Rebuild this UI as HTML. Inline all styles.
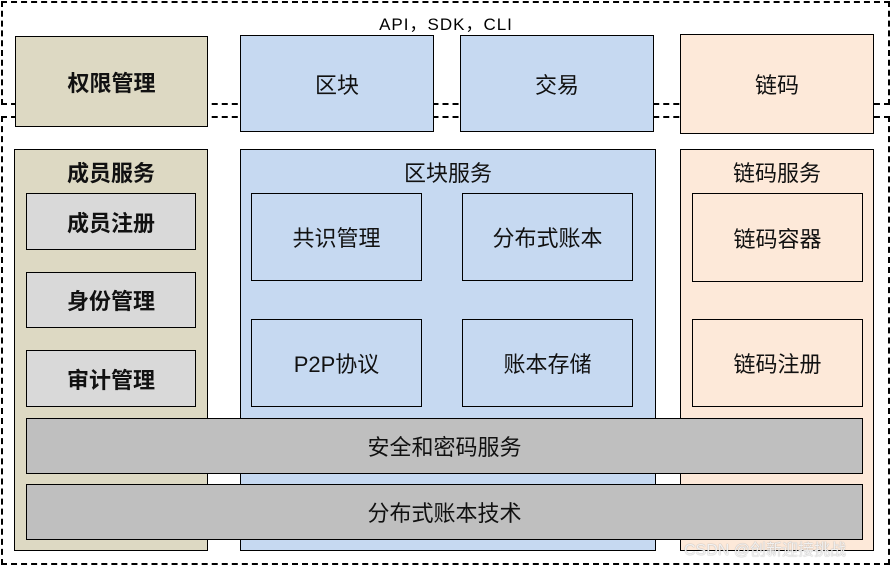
<!DOCTYPE html>
<html><head><meta charset="utf-8"><style>
body{margin:0;width:892px;height:566px;background:#fff;position:relative;overflow:hidden;font-family:"Liberation Sans","Noto Sans CJK SC",sans-serif;}
div{position:absolute;box-sizing:border-box;}
.b{border:1.5px solid #000;display:flex;align-items:center;justify-content:center;font-size:22px;color:#111;}
.d{border:2px dashed #000;}
.t{font-weight:bold;}
.tan{background:#ddd9c3}.blue{background:#c6d9f1}.pch{background:#fde9d9}.lg{background:#d9d9d9}.gr{background:#bfbfbf}
.h{position:absolute;left:0;right:0;text-align:center;font-size:22px;}
</style></head><body>
<div class="d" style="left:1px;top:1px;width:889px;height:104px"></div>
<div class="d" style="left:1px;top:116px;width:889px;height:449px"></div>
<div style="left:0;width:892px;top:10px;text-align:center;font-size:17px;letter-spacing:1px">API，SDK，CLI</div>
<div class="b tan t" style="left:15px;top:36px;width:193px;height:91px">权限管理</div>
<div class="b blue" style="left:240px;top:35px;width:194px;height:97px">区块</div>
<div class="b blue" style="left:460px;top:35px;width:194px;height:97px">交易</div>
<div class="b pch" style="left:680px;top:34px;width:194px;height:100px">链码</div>

<div class="b tan" style="left:14px;top:149px;width:194px;height:402px"><div class="h t" style="top:6px">成员服务</div></div>
<div class="b blue" style="left:240px;top:149px;width:416px;height:402px"><div class="h" style="top:6px">区块服务</div></div>
<div class="b pch" style="left:680px;top:149px;width:194px;height:402px"><div class="h" style="top:6px">链码服务</div></div>

<div class="b lg t" style="left:26px;top:193px;width:170px;height:57px">成员注册</div>
<div class="b lg t" style="left:26px;top:272px;width:170px;height:56px">身份管理</div>
<div class="b lg t" style="left:26px;top:350px;width:170px;height:57px">审计管理</div>

<div class="b blue" style="left:251px;top:193px;width:171px;height:88px">共识管理</div>
<div class="b blue" style="left:462px;top:193px;width:171px;height:88px">分布式账本</div>
<div class="b blue" style="left:251px;top:319px;width:171px;height:88px">P2P协议</div>
<div class="b blue" style="left:462px;top:319px;width:171px;height:88px">账本存储</div>

<div class="b pch" style="left:692px;top:193px;width:171px;height:89px">链码容器</div>
<div class="b pch" style="left:692px;top:319px;width:171px;height:88px">链码注册</div>

<div class="b gr" style="left:26px;top:418px;width:837px;height:56px">安全和密码服务</div>
<div class="b gr" style="left:26px;top:484px;width:837px;height:56px">分布式账本技术</div>
<div style="left:684px;top:536px;font-size:16px;color:rgba(255,255,255,0.85);text-shadow:0 0 1px #888">CSDN @创新迎接挑战</div>
</body></html>
